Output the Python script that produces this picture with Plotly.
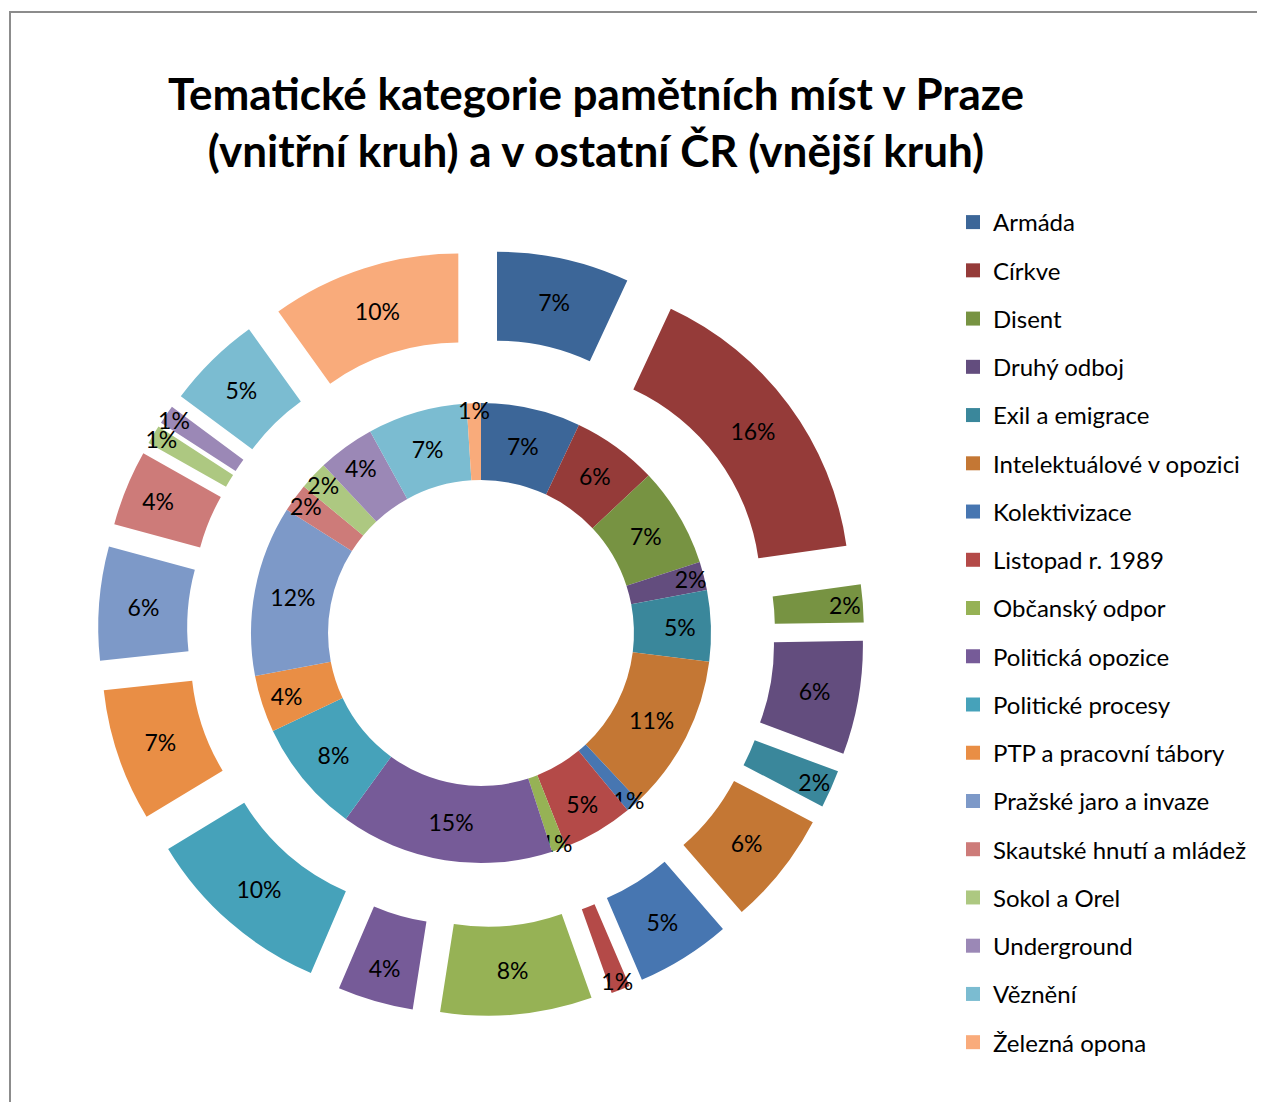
import plotly.graph_objects as go

categories = ["Armáda", "Církve", "Disent", "Druhý odboj", "Exil a emigrace",
              "Intelektuálové v opozici", "Kolektivizace", "Listopad r. 1989",
              "Občanský odpor", "Politická opozice", "Politické procesy",
              "PTP a pracovní tábory", "Pražské jaro a invaze",
              "Skautské hnutí a mládež", "Sokol a Orel", "Underground",
              "Věznění", "Železná opona"]

praha_pct = [7, 6, 7, 2, 5, 11, 1, 5, 1, 15, 8, 4, 12, 2, 2, 4, 7, 1]
ostatni_pct = [7, 16, 2, 6, 2, 6, 5, 1, 8, 4, 10, 7, 6, 4, 1, 1, 5, 10]

colors = ["#3C6698", "#953B39", "#779342", "#634D7E", "#3A879B",
          "#C47734", "#4776B1", "#B44A48", "#96B255", "#765B98",
          "#46A2BA", "#E98E45", "#7D99C8", "#CD7B79", "#ADC881",
          "#9B88B6", "#7BBCD1", "#F9AB7B"]

FONT = "Lato, Carlito, Calibri, sans-serif"
# page body has an 8px margin; figure sized to fill the rest of the window
OFF = 8
W, H = 1265 - OFF, 1102 - OFF
cx, cy = 481 - OFF, 633 - OFF
R_out, R_in = 383, 230


def dom(r):
    return dict(x=[(cx - r) / W, (cx + r) / W],
                y=[1 - (cy + r) / H, 1 - (cy - r) / H])


fig = go.Figure()

fig.add_trace(go.Pie(
    labels=categories, values=ostatni_pct, sort=False, direction="clockwise",
    rotation=0, hole=0.712, pull=[0.24] * len(categories),
    marker=dict(colors=colors, line=dict(width=0)),
    texttemplate="%{value}%", textposition="inside",
    insidetextorientation="horizontal",
    textfont=dict(family=FONT, size=23, color="black"),
    domain=dom(R_out), showlegend=False, name="Ostatní ČR",
))

fig.add_trace(go.Pie(
    labels=categories, values=praha_pct, sort=False, direction="clockwise",
    rotation=0, hole=0.665,
    marker=dict(colors=colors, line=dict(width=0)),
    texttemplate="%{value}%", textposition="inside",
    insidetextorientation="horizontal",
    textfont=dict(family=FONT, size=23, color="black"),
    domain=dom(R_in), showlegend=False, name="Praha",
))

for i, (c, col) in enumerate(zip(categories, colors)):
    fig.add_trace(go.Scatter(
        x=[None], y=[None], mode="markers", name=c, legendgroup=f"g{i}",
        marker=dict(symbol="square", size=14, color=col),
        showlegend=True, hoverinfo="skip",
    ))

fig.update_layout(
    width=W, height=H,
    margin=dict(l=0, r=0, t=0, b=0),
    paper_bgcolor="white", plot_bgcolor="white",
    xaxis=dict(visible=False), yaxis=dict(visible=False),
    title=dict(
        text="<b>Tematické kategorie pamětních míst v Praze<br>(vnitřní kruh) a v ostatní ČR (vnější kruh)</b>",
        x=(596 - OFF) / W, xanchor="center", y=1 - 102 / H, yanchor="top",
        font=dict(family=FONT, size=44, color="black"),
    ),
    legend=dict(
        x=945 / W, xanchor="left", y=1 - 192 / H, yanchor="top",
        font=dict(family=FONT, size=24, color="black"),
        traceorder="grouped", tracegroupgap=14.04, itemwidth=30,
        bgcolor="rgba(0,0,0,0)",
    ),
    uniformtext=dict(minsize=23, mode="show"),
    shapes=[dict(type="rect", xref="paper", yref="paper",
                 x0=(10 - OFF) / W, x1=1.02, y0=-0.02, y1=1 - (12 - OFF) / H,
                 line=dict(color="#8c8c8c", width=2), layer="below")],
)

fig.write_html("out.html")
